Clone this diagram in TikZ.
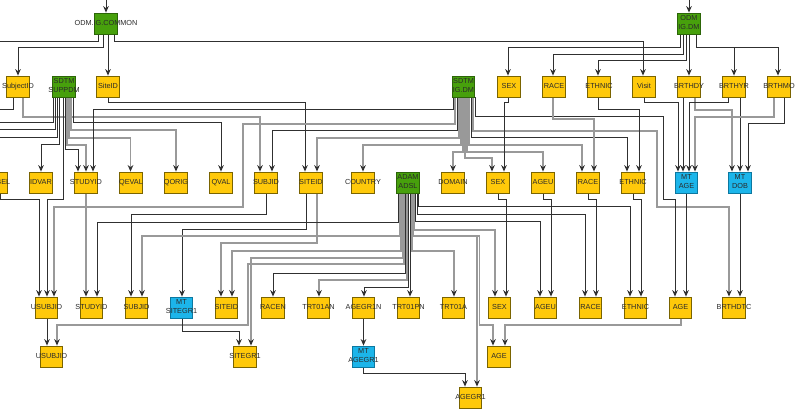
\documentclass[tikz,border=0pt]{standalone}
\usepackage{fontspec}
\setmainfont{Liberation Sans}
\usetikzlibrary{arrows.meta}
\definecolor{dkc}{HTML}{303030}
\definecolor{gyc}{HTML}{999999}
\definecolor{yfill}{HTML}{FFC90A}
\definecolor{ydraw}{HTML}{7A6400}
\definecolor{gfill}{HTML}{47A00C}
\definecolor{gdraw}{HTML}{2C6508}
\definecolor{cfill}{HTML}{1CB5EA}
\definecolor{cdraw}{HTML}{0C78A0}
\definecolor{txtc}{HTML}{2A2A2A}
\newcommand\boxlab[1]{\makebox[0pt]{\begin{tabular}{@{}c@{}}#1\end{tabular}}}
\newcommand\lnk[6]{\draw[#1] (#2.south -| #3,0) |- (#4,#5) -- (#6.north -| #4,0);}
\pgfdeclarelayer{bg}\pgfsetlayers{bg,main}
\begin{document}
\begin{tikzpicture}[x=1pt,y=-1pt,
  nb/.style={minimum width=22.5pt,minimum height=21pt,inner sep=0pt,line width=0.8pt,font=\fontsize{7.3}{8.4}\selectfont,text=txtc},
  ynode/.style={nb,fill=yfill,draw=ydraw},
  gnode/.style={nb,fill=gfill,draw=gdraw},
  cnode/.style={nb,fill=cfill,draw=cdraw},
  ldk/.style={draw=dkc,line width=1pt,-{Stealth[length=6.5pt,width=5.6pt,color=dkc]}},
  lgy/.style={draw=gyc,line width=1.2pt,-{Stealth[length=6.5pt,width=5.6pt,color=dkc]}},
  ldkz/.style={draw=dkc,line width=1pt},
  lgyz/.style={draw=gyc,line width=1.2pt}]
\clip (0,0) rectangle (796,409);
\begin{pgfonlayer}{bg}
\fill[white] (0,0) rectangle (796,409);
\end{pgfonlayer}
% row 0
\node[gnode] (odmc) at (106,23.5) {\boxlab{ODM.IG.COMMON}};
\node[gnode] (odmdm) at (689,23.5) {\boxlab{ODM\\IG.DM}};
% row 1
\node[ynode] (subjectid1) at (18,86.5) {\boxlab{SubjectID}};
\node[gnode] (suppdm) at (64,86.5) {\boxlab{SDTM\\SUPPDM}};
\node[ynode] (siteid1) at (108,86.5) {\boxlab{SiteID}};
\node[gnode] (igdm) at (463.5,86.5) {\boxlab{SDTM\\IG.DM}};
\node[ynode] (sex1) at (509,86.5) {\boxlab{SEX}};
\node[ynode] (race1) at (554,86.5) {\boxlab{RACE}};
\node[ynode] (ethnic1) at (599,86.5) {\boxlab{ETHNIC}};
\node[ynode] (visit) at (644,86.5) {\boxlab{Visit}};
\node[ynode] (brthdy) at (689,86.5) {\boxlab{BRTHDY}};
\node[ynode] (brthyr) at (734,86.5) {\boxlab{BRTHYR}};
\node[ynode] (brthmo) at (779,86.5) {\boxlab{BRTHMO}};
% row 2
\node[ynode] (qlabel) at (-4,182.5) {\boxlab{QLABEL}};
\node[ynode] (idvar) at (41,182.5) {\boxlab{IDVAR}};
\node[ynode] (studyid2) at (86,182.5) {\boxlab{STUDYID}};
\node[ynode] (qeval) at (131,182.5) {\boxlab{QEVAL}};
\node[ynode] (qorig) at (176,182.5) {\boxlab{QORIG}};
\node[ynode] (qval) at (221,182.5) {\boxlab{QVAL}};
\node[ynode] (subjid2) at (266,182.5) {\boxlab{SUBJID}};
\node[ynode] (siteid2) at (311,182.5) {\boxlab{SITEID}};
\node[ynode] (country) at (363,182.5) {\boxlab{COUNTRY}};
\node[gnode] (adsl) at (408,182.5) {\boxlab{ADAM\\ADSL}};
\node[ynode] (domain) at (453,182.5) {\boxlab{DOMAIN}};
\node[ynode] (sex2) at (498,182.5) {\boxlab{SEX}};
\node[ynode] (ageu2) at (543,182.5) {\boxlab{AGEU}};
\node[ynode] (race2) at (588,182.5) {\boxlab{RACE}};
\node[ynode] (ethnic2) at (633,182.5) {\boxlab{ETHNIC}};
\node[cnode] (mtage) at (686.5,182.5) {\boxlab{MT\\AGE}};
\node[cnode] (mtdob) at (740,182.5) {\boxlab{MT\\DOB}};
% row 3
\node[ynode] (usubjid3) at (46.5,307.5) {\boxlab{USUBJID}};
\node[ynode] (studyid3) at (91.5,307.5) {\boxlab{STUDYID}};
\node[ynode] (subjid3) at (136.5,307.5) {\boxlab{SUBJID}};
\node[cnode] (mtsitegr1) at (181.5,307.5) {\boxlab{MT\\SITEGR1}};
\node[ynode] (siteid3) at (226.5,307.5) {\boxlab{SITEID}};
\node[ynode] (racen) at (273,307.5) {\boxlab{RACEN}};
\node[ynode] (trt01an) at (318.5,307.5) {\boxlab{TRT01AN}};
\node[ynode] (agegr1n) at (363.5,307.5) {\boxlab{AGEGR1N}};
\node[ynode] (trt01pn) at (408.5,307.5) {\boxlab{TRT01PN}};
\node[ynode] (trt01a) at (453.5,307.5) {\boxlab{TRT01A}};
\node[ynode] (sex3) at (499.5,307.5) {\boxlab{SEX}};
\node[ynode] (ageu3) at (545.5,307.5) {\boxlab{AGEU}};
\node[ynode] (race3) at (590.5,307.5) {\boxlab{RACE}};
\node[ynode] (ethnic3) at (635.5,307.5) {\boxlab{ETHNIC}};
\node[ynode] (age3) at (680.5,307.5) {\boxlab{AGE}};
\node[ynode] (brthdtc) at (734,307.5) {\boxlab{BRTHDTC}};
% row 4 / 5
\node[ynode] (usubjid4) at (51.5,356.5) {\boxlab{USUBJID}};
\node[ynode] (sitegr1) at (245,356.5) {\boxlab{SITEGR1}};
\node[cnode] (mtagegr1) at (363.5,356.5) {\boxlab{MT\\AGEGR1}};
\node[ynode] (age4) at (499,356.5) {\boxlab{AGE}};
\node[ynode] (agegr1) at (470.5,397.5) {\boxlab{AGEGR1}};
% free ends
\coordinate (in1) at (106,-2);
\coordinate (in2) at (689,-2);
\coordinate (offa) at (-2,41.5);
\coordinate (offb) at (-2,110);
\coordinate (offc) at (-2,123);
\coordinate (offd) at (-2,130);
\coordinate (offe) at (-2,138);
\begin{pgfonlayer}{bg}
\draw[ldk] (in1) -- (odmc.north);
\draw[ldk] (in2) -- (odmdm.north);
% ODM.IG.COMMON
\draw[ldkz] (odmc.south -| 98,0) |- (offa);
\lnk{ldk}{odmc}{103}{18}{47.5}{subjectid1}
\draw[ldk] (odmc.south -| 108,0) -- (siteid1.north -| 108,0);
\lnk{ldk}{odmc}{114}{643}{41.5}{visit}
% ODM IG.DM
\lnk{ldk}{odmdm}{680}{508}{47.5}{sex1}
\lnk{ldk}{odmdm}{683}{553}{55}{race1}
\lnk{ldk}{odmdm}{686}{598}{61}{ethnic1}
\draw[ldk] (odmdm.south -| 689,0) -- (brthdy.north -| 689,0);
\lnk{ldk}{odmdm}{696}{734}{47.5}{brthyr}
\lnk{ldk}{odmdm}{696}{778}{47.5}{brthmo}
% SubjectID, SiteID
\draw[ldkz] (subjectid1.south -| 13,0) |- (offb);
\lnk{lgy}{subjectid1}{23}{260}{117}{subjid2}
\lnk{ldk}{siteid1}{108}{305}{103}{siteid2}
% SDTM SUPPDM
\draw[ldkz] (suppdm.south -| 53,0) |- (offc);
\draw[ldkz] (suppdm.south -| 55,0) |- (offd);
\draw[ldkz] (suppdm.south -| 57,0) |- (offe);
\lnk{ldk}{suppdm}{59}{41}{145}{idvar}
\draw[ldk] (suppdm.south -| 63,0) |- (47,200) -- (usubjid3.north -| 47,0);
\lnk{ldk}{suppdm}{65}{78}{150}{studyid2}
\lnk{lgy}{suppdm}{67}{86}{145}{studyid2}
\lnk{lgy}{suppdm}{69}{130.5}{138}{qeval}
\lnk{lgy}{suppdm}{71}{176}{130}{qorig}
\lnk{ldk}{suppdm}{73}{221}{123}{qval}
% SDTM IG.DM left
\lnk{ldk}{igdm}{453}{93}{110}{studyid2}
\draw[lgy] (igdm.south -| 455,0) |- (243,124) |- (54,207) -- (usubjid3.north -| 54,0);
\lnk{ldk}{igdm}{457}{272}{131}{subjid2}
\lnk{lgy}{igdm}{459}{317}{138}{siteid2}
\lnk{lgy}{igdm}{461}{363}{145}{country}
\lnk{lgy}{igdm}{463}{453}{152}{domain}
\lnk{lgy}{igdm}{465}{492}{158}{sex2}
% SDTM IG.DM right
\lnk{lgy}{igdm}{467}{543}{152}{ageu2}
\lnk{lgy}{igdm}{469}{582}{145}{race2}
\lnk{ldk}{igdm}{471}{627}{138}{ethnic2}
\draw[lgy] (igdm.south -| 473,0) |- (657,131) |- (729,207) -- (brthdtc.north -| 729,0);
\draw[ldk] (igdm.south -| 475,0) |- (663,117) |- (675,200) -- (age3.north -| 675,0);
% row 1 right to row 2
\lnk{ldk}{sex1}{508}{504}{103}{sex2}
\lnk{lgy}{race1}{553}{594}{119}{race2}
\lnk{ldk}{ethnic1}{598}{639}{110}{ethnic2}
\lnk{ldk}{visit}{644}{678}{103}{mtage}
\draw[ldk] (brthdy.south -| 683,0) -- (mtage.north -| 683,0);
\lnk{lgy}{brthdy}{695}{732}{110}{mtdob}
\lnk{ldk}{brthyr}{728}{689}{103}{mtage}
\draw[ldk] (brthyr.south -| 740,0) -- (mtdob.north -| 740,0);
\lnk{lgy}{brthmo}{774}{695}{117}{mtage}
\lnk{ldk}{brthmo}{784}{748}{124}{mtdob}
% row 2 to row 3
\lnk{ldk}{qlabel}{0}{39}{200}{usubjid3}
\draw[lgy] (studyid2.south -| 86,0) -- (studyid3.north -| 86,0);
\lnk{ldk}{subjid2}{266}{131}{215}{subjid3}
\lnk{ldk}{siteid2}{306}{182}{230}{mtsitegr1}
\lnk{lgy}{siteid2}{317}{221}{243}{siteid3}
% ADAM ADSL left
\lnk{ldk}{adsl}{398}{97}{223}{studyid3}
\lnk{lgy}{adsl}{399.5}{142}{236}{subjid3}
\lnk{lgy}{adsl}{401}{232}{251}{siteid3}
\lnk{lgy}{adsl}{402.5}{251}{258}{sitegr1}
\draw[lgy] (adsl.south -| 404,0) |- (248,264) |- (57,325) -- (usubjid4.north -| 57,0);
\lnk{ldk}{adsl}{405.5}{273}{273}{racen}
\lnk{lgy}{adsl}{407}{319}{280}{trt01an}
\lnk{ldk}{adsl}{408.5}{364}{287}{agegr1n}
\draw[ldk] (adsl.south -| 410,0) -- (trt01pn.north -| 410,0);
% ADAM ADSL right
\lnk{lgy}{adsl}{412}{454}{251}{trt01a}
\lnk{lgy}{adsl}{413}{477}{236}{agegr1}
\draw[lgy] (adsl.south -| 413,0) |- (479.5,236) |- (493,325) -- (age4.north -| 493,0);
\lnk{lgy}{adsl}{414.5}{495}{230}{sex3}
\lnk{ldk}{adsl}{415.5}{540}{222}{ageu3}
\lnk{ldk}{adsl}{417}{585}{215}{race3}
\lnk{ldk}{adsl}{418.5}{630}{207}{ethnic3}
% row 2 right to row 3
\lnk{ldk}{sex2}{498}{506}{200}{sex3}
\lnk{ldk}{ageu2}{543}{551}{200}{ageu3}
\lnk{ldk}{race2}{588}{596}{200}{race3}
\lnk{ldk}{ethnic2}{633}{641}{200}{ethnic3}
\draw[ldk] (mtage.south -| 686,0) -- (age3.north -| 686,0);
\draw[ldk] (mtdob.south -| 740,0) -- (brthdtc.north -| 740,0);
% row 3 to rows 4/5
\draw[ldk] (usubjid3.south -| 47,0) -- (usubjid4.north -| 47,0);
\lnk{ldk}{mtsitegr1}{182}{239}{331}{sitegr1}
\draw[ldk] (agegr1n.south -| 363.5,0) -- (mtagegr1.north -| 363.5,0);
\lnk{ldk}{mtagegr1}{363.5}{465}{373}{agegr1}
\lnk{lgy}{age3}{681}{505}{325}{age4}
\end{pgfonlayer}
\end{tikzpicture}
\end{document}
